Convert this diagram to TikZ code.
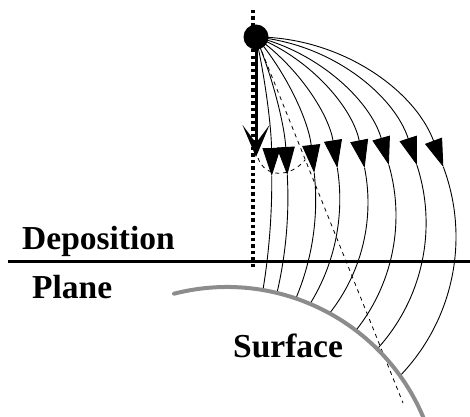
\documentclass[tikz,border=0pt]{standalone}
\usepackage{fontspec}
\setmainfont{Liberation Serif}
\usetikzlibrary{calc,arrows.meta}

\begin{document}
\begin{tikzpicture}[x=1pt,y=1pt,
    track/.style={line width=0.9pt},
    head/.style={-{Triangle[length=28pt,width=18pt]}},
    guide/.style={line width=0.8pt,dash pattern=on 4pt off 4pt},
    lbl/.style={font=\bfseries\fontsize{33.5}{40}\selectfont,inner sep=0pt,anchor=base west}]
        \useasboundingbox (0,0) rectangle (470,416);

        \coordinate (S) at (256,379);
        \coordinate (O) at (227,-84);
        \coordinate (Q) at (403,13);

        % deposition plane
        \draw[line width=3.5pt] (8,154.5) -- (470,154.5);

        % vertical axis
        \draw[line width=3.2pt,dash pattern=on 3.5pt off 3pt] (253,406) -- (253,146);

        % trajectories down to the surface
        \begin{scope}[even odd rule]
            \clip (0,0) rectangle (470,416) (O) circle[radius=213];
            \foreach \cx/\cy/\r/\a/\t/\e in {-396/234.4/667.8/12.5/0.48/-12,
                    -132.3/218.3/420.2/22.5/3.1/-16,
                    62.6/215.8/253.1/40.2/6.2/-26,
                    140.9/216.8/198.9/54.6/9/-35,
                    189.5/213.4/178.5/68.1/11.2/-42,
                    211.9/200.3/184.1/76.1/16/-42,
                    239.5/193/186.6/84.9/18.1/-46,
                    256/179/200/90/20.5/-47}{
                \draw[track,head] (\cx,\cy) ++(\a:\r) arc[start angle=\a,end angle=\t,radius=\r];
                \draw[track] (\cx,\cy) ++(\t:\r) arc[start angle=\t,end angle=\e,radius=\r];
            }
        \end{scope}

        \draw[guide] (S) -- (Q);
        \draw[guide] (258,258) .. controls (265,238) and (290,238) .. (305,256);

        % straight drop
        \draw[line width=3pt,-{Stealth[length=32pt,width=27pt,inset=18pt]}] (S) -- (256,259);
        \fill (S) circle[radius=12.5];

        % surface
        \draw[black!45,line width=4pt,line cap=round] (O) ++(104.4:213) arc[start angle=104.4,end angle=18,radius=213];

        \node[lbl] (dep) at (22,167) {Deposition};
        \node[lbl] (pl) at (32,118) {Plane};
        \node[lbl] (surf) at (233,59) {Surface};
    \end{tikzpicture}
\end{document}
